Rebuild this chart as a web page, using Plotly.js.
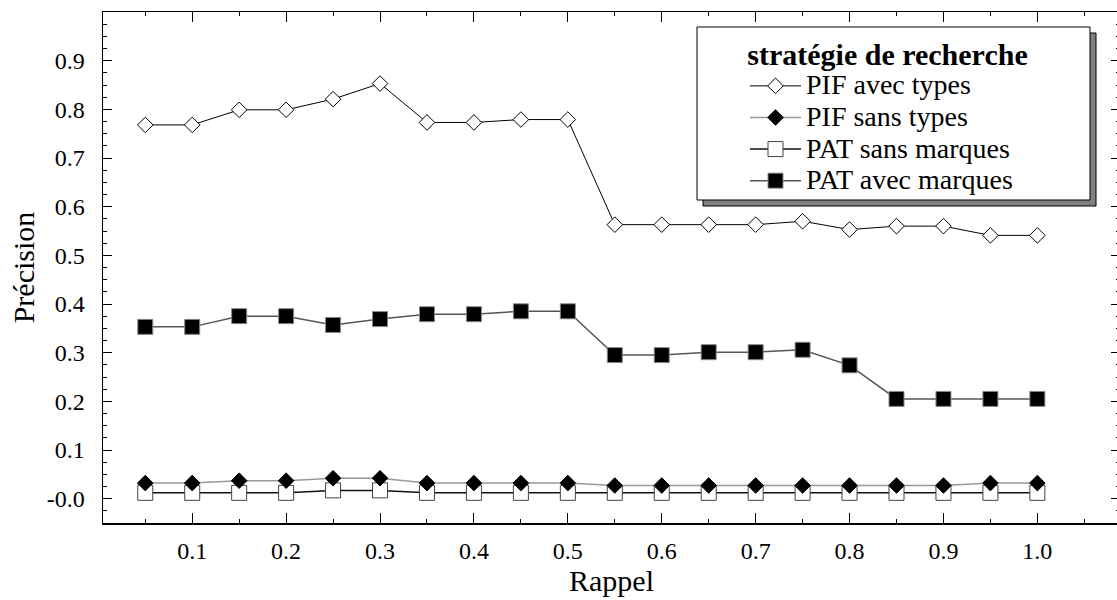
<!DOCTYPE html>
<html><head><meta charset="utf-8">
<script src="https://cdn.plot.ly/plotly-3.0.1.min.js"></script>
<style>html,body{margin:0;padding:0;overflow:hidden;background:#fff}</style>
</head><body><div id="chart"></div>
<script>
const rappel = [0.05,0.1,0.15,0.2,0.25,0.3,0.35,0.4,0.45,0.5,0.55,0.6,0.65,0.7,0.75,0.8,0.85,0.9,0.95,1.0];
const pifAvecTypes = [0.768,0.768,0.799,0.799,0.821,0.853,0.773,0.773,0.779,0.779,0.563,0.563,0.563,0.563,0.570,0.553,0.560,0.560,0.541,0.541];
const pifSansTypes = [0.032,0.032,0.037,0.037,0.042,0.042,0.032,0.032,0.032,0.032,0.027,0.027,0.027,0.027,0.027,0.027,0.027,0.027,0.032,0.032];
const patSansMarques = [0.012,0.012,0.012,0.012,0.017,0.017,0.012,0.012,0.012,0.012,0.012,0.012,0.012,0.012,0.012,0.012,0.012,0.012,0.012,0.012];
const patAvecMarques = [0.353,0.353,0.375,0.375,0.357,0.369,0.379,0.379,0.385,0.385,0.295,0.295,0.301,0.301,0.306,0.274,0.205,0.205,0.205,0.205];
const seriesNames = ['PIF avec types','PIF sans types','PAT sans marques','PAT avec marques'];
const yTickVals = [0,0.1,0.2,0.3,0.4,0.5,0.6,0.7,0.8,0.9];
const yTickText = ['-0.0','0.1','0.2','0.3','0.4','0.5','0.6','0.7','0.8','0.9'];
const xTickVals = [0.1,0.2,0.3,0.4,0.5,0.6,0.7,0.8,0.9,1.0];
const xTickText = ['0.1','0.2','0.3','0.4','0.5','0.6','0.7','0.8','0.9','1.0'];
const legendTitle = 'stratégie de recherche';
const xTitle = 'Rappel';
const yTitle = 'Précision';

const FONT = 'Liberation Serif, Times New Roman, serif';
function sized(t, fs){ return '<span style="font-size:' + fs + 'px">' + t + '</span>'; }

// plot area geometry (px)
const W = 1125, H = 600, ML = 103, MR = 5, MT = 12, MB = 77;
const PW = W - ML - MR, PH = H - MT - MB;
const px2x = function(px){ return (px - ML) / PW; };
const px2y = function(py){ return (H - MB - py) / PH; };
// legend frame (px) and shadow offset
const box = {l: 697, t: 27, r: 1090, b: 200}, SH = 6;

const traces = [
  {x: rappel, y: patSansMarques, name: sized(seriesNames[2], 28), legendrank: 3, mode: 'lines+markers',
   line: {color: '#111', width: 1.5},
   marker: {symbol: 'square', size: 15, color: '#fff', line: {color: '#444', width: 1}}},
  {x: rappel, y: patAvecMarques, name: sized(seriesNames[3], 28), legendrank: 4, mode: 'lines+markers',
   line: {color: '#555', width: 1.5},
   marker: {symbol: 'square', size: 15, color: '#000', line: {color: '#888', width: 1}}},
  {x: rappel, y: pifAvecTypes, name: sized(seriesNames[0], 28), legendrank: 1, mode: 'lines+markers',
   line: {color: '#000', width: 1},
   marker: {symbol: 'diamond', size: 12, color: '#fff', line: {color: '#000', width: 1}}},
  {x: rappel, y: pifSansTypes, name: sized(seriesNames[1], 28), legendrank: 2, mode: 'lines+markers',
   line: {color: '#999', width: 1.5},
   marker: {symbol: 'diamond', size: 12, color: '#000', line: {color: '#000', width: 1}}}
];

const layout = {
  width: W, height: H,
  margin: {l: ML, r: MR, t: MT, b: MB},
  paper_bgcolor: '#fff', plot_bgcolor: '#fff',
  font: {family: FONT, color: '#000', size: 24},
  showlegend: true,
  legend: {
    x: px2x(745), y: px2y(28), xanchor: 'left', yanchor: 'top',
    bgcolor: 'rgba(0,0,0,0)', borderwidth: 0, itemwidth: 51,
    font: {family: FONT, size: 22, color: '#000'},
    title: {text: '<b>' + sized(legendTitle, 30) + '</b>', side: 'top center', font: {family: FONT, size: 28.5}}
  },
  shapes: [
    {type: 'rect', xref: 'paper', yref: 'paper', layer: 'above',
     x0: px2x(box.l + SH), x1: px2x(box.r + SH), y0: px2y(box.b + SH), y1: px2y(box.t + SH),
     fillcolor: '#808080', line: {color: '#000', width: 1}},
    {type: 'rect', xref: 'paper', yref: 'paper', layer: 'above',
     x0: px2x(box.l), x1: px2x(box.r), y0: px2y(box.b), y1: px2y(box.t),
     fillcolor: '#fff', line: {color: '#000', width: 1}}
  ],
  xaxis: {
    range: [0.005, 1.088], showgrid: false, zeroline: false,
    showline: true, linecolor: '#000', linewidth: 1.5, mirror: 'ticks',
    ticks: 'inside', ticklen: 10, tickwidth: 1, tickcolor: '#000',
    tickmode: 'array', tickvals: xTickVals, ticktext: xTickText,
    ticklabelstandoff: 6,
    minor: {tick0: 0.05, dtick: 0.05, ticks: 'inside', ticklen: 4, tickcolor: '#000', tickwidth: 1},
    title: {text: xTitle, font: {family: FONT, size: 30}, standoff: 6},
    tickfont: {family: FONT, size: 24}
  },
  yaxis: {
    range: [-0.05, 1.0], showgrid: false, zeroline: false,
    showline: true, linecolor: '#000', linewidth: 1.5, mirror: 'ticks',
    ticks: 'inside', ticklen: 9, tickwidth: 1, tickcolor: '#000',
    tickmode: 'array', tickvals: yTickVals, ticktext: yTickText,
    ticklabelstandoff: 12,
    minor: {tick0: 0, dtick: 0.025, ticks: 'inside', ticklen: 4, tickcolor: '#000', tickwidth: 1},
    title: {text: yTitle, font: {family: FONT, size: 30}, standoff: 3},
    tickfont: {family: FONT, size: 24}
  }
};

Plotly.newPlot('chart', traces, layout, {displayModeBar: false, staticPlot: true});
</script></body></html>
